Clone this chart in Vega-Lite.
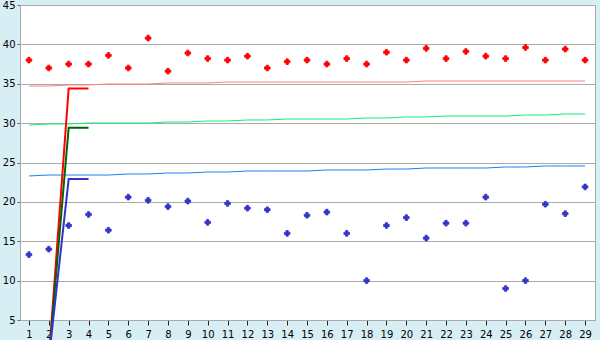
{
  "$schema": "https://vega.github.io/schema/vega-lite/v6.json",
  "width": 575,
  "height": 315,
  "autosize": {"type": "none"},
  "padding": {"left": 20, "top": 5, "right": 5, "bottom": 20},
  "background": "#d8eef5",
  "config": {
    "view": {"fill": "white", "stroke": "#aaaaaa", "strokeWidth": 1},
    "font": "DejaVu Sans",
    "axis": {"labelFont": "DejaVu Sans", "labelFontSize": 10, "labelColor": "#000000", "title": null, "labelFlush": false, "labelOverlap": false, "domainColor": "#aaaaaa", "gridColor": "#aaaaaa", "gridOpacity": 1}
  },
  "resolve": {"scale": {"color": "independent"}},
  "layer": [
    {
      "data": {"values": [
        {"x": 1, "s": "r", "v": 34.71}, {"x": 2, "s": "r", "v": 34.71}, {"x": 3, "s": "r", "v": 34.84}, {"x": 4, "s": "r", "v": 34.84}, {"x": 5, "s": "r", "v": 34.97}, {"x": 6, "s": "r", "v": 34.97}, {"x": 7, "s": "r", "v": 34.97}, {"x": 8, "s": "r", "v": 35.10}, {"x": 9, "s": "r", "v": 35.10}, {"x": 10, "s": "r", "v": 35.10},
        {"x": 11, "s": "r", "v": 35.22}, {"x": 12, "s": "r", "v": 35.22}, {"x": 13, "s": "r", "v": 35.22}, {"x": 14, "s": "r", "v": 35.22}, {"x": 15, "s": "r", "v": 35.22}, {"x": 16, "s": "r", "v": 35.22}, {"x": 17, "s": "r", "v": 35.22}, {"x": 18, "s": "r", "v": 35.22}, {"x": 19, "s": "r", "v": 35.22}, {"x": 20, "s": "r", "v": 35.22},
        {"x": 21, "s": "r", "v": 35.35}, {"x": 22, "s": "r", "v": 35.35}, {"x": 23, "s": "r", "v": 35.35}, {"x": 24, "s": "r", "v": 35.35}, {"x": 25, "s": "r", "v": 35.35}, {"x": 26, "s": "r", "v": 35.35}, {"x": 27, "s": "r", "v": 35.35}, {"x": 28, "s": "r", "v": 35.35}, {"x": 29, "s": "r", "v": 35.35},
        {"x": 1, "s": "g", "v": 29.76}, {"x": 2, "s": "g", "v": 29.89}, {"x": 3, "s": "g", "v": 29.89}, {"x": 4, "s": "g", "v": 30.02}, {"x": 5, "s": "g", "v": 30.02}, {"x": 6, "s": "g", "v": 30.02}, {"x": 7, "s": "g", "v": 30.02}, {"x": 8, "s": "g", "v": 30.14}, {"x": 9, "s": "g", "v": 30.14}, {"x": 10, "s": "g", "v": 30.27},
        {"x": 11, "s": "g", "v": 30.27}, {"x": 12, "s": "g", "v": 30.40}, {"x": 13, "s": "g", "v": 30.40}, {"x": 14, "s": "g", "v": 30.52}, {"x": 15, "s": "g", "v": 30.52}, {"x": 16, "s": "g", "v": 30.52}, {"x": 17, "s": "g", "v": 30.52}, {"x": 18, "s": "g", "v": 30.65}, {"x": 19, "s": "g", "v": 30.65}, {"x": 20, "s": "g", "v": 30.78},
        {"x": 21, "s": "g", "v": 30.78}, {"x": 22, "s": "g", "v": 30.90}, {"x": 23, "s": "g", "v": 30.90}, {"x": 24, "s": "g", "v": 30.90}, {"x": 25, "s": "g", "v": 30.90}, {"x": 26, "s": "g", "v": 31.03}, {"x": 27, "s": "g", "v": 31.03}, {"x": 28, "s": "g", "v": 31.16}, {"x": 29, "s": "g", "v": 31.16},
        {"x": 1, "s": "b", "v": 23.29}, {"x": 2, "s": "b", "v": 23.41}, {"x": 3, "s": "b", "v": 23.41}, {"x": 4, "s": "b", "v": 23.41}, {"x": 5, "s": "b", "v": 23.41}, {"x": 6, "s": "b", "v": 23.54}, {"x": 7, "s": "b", "v": 23.54}, {"x": 8, "s": "b", "v": 23.67}, {"x": 9, "s": "b", "v": 23.67}, {"x": 10, "s": "b", "v": 23.79},
        {"x": 11, "s": "b", "v": 23.79}, {"x": 12, "s": "b", "v": 23.92}, {"x": 13, "s": "b", "v": 23.92}, {"x": 14, "s": "b", "v": 23.92}, {"x": 15, "s": "b", "v": 23.92}, {"x": 16, "s": "b", "v": 24.05}, {"x": 17, "s": "b", "v": 24.05}, {"x": 18, "s": "b", "v": 24.05}, {"x": 19, "s": "b", "v": 24.17}, {"x": 20, "s": "b", "v": 24.17},
        {"x": 21, "s": "b", "v": 24.30}, {"x": 22, "s": "b", "v": 24.30}, {"x": 23, "s": "b", "v": 24.30}, {"x": 24, "s": "b", "v": 24.30}, {"x": 25, "s": "b", "v": 24.43}, {"x": 26, "s": "b", "v": 24.43}, {"x": 27, "s": "b", "v": 24.56}, {"x": 28, "s": "b", "v": 24.56}, {"x": 29, "s": "b", "v": 24.56}
      ]},
      "mark": {"type": "line", "strokeWidth": 1, "clip": false},
      "encoding": {
        "x": {"field": "x", "type": "quantitative", "scale": {"domain": [0.55, 29.5], "nice": false, "zero": false},
              "axis": {"values": [1,2,3,4,5,6,7,8,9,10,11,12,13,14,15,16,17,18,19,20,21,22,23,24,25,26,27,28,29], "tickCount": 40, "grid": false, "tickSize": 5, "tickColor": "#222222", "labelPadding": 4}},
        "y": {"field": "v", "type": "quantitative", "scale": {"domain": [5, 45], "nice": false, "zero": false},
              "axis": {"values": [5,10,15,20,25,30,35,40,45], "tickCount": 20, "grid": true, "tickSize": 3, "tickColor": "#666666", "labelPadding": 2}},
        "color": {"field": "s", "type": "nominal", "scale": {"domain": ["r", "g", "b"], "range": ["#ff8080", "#11ee80", "#1e80f0"]}, "legend": null},
        "order": {"field": "x", "type": "quantitative"}
      }
    },
    {
      "data": {"values": [
        {"x": 2, "s": "r", "v": 0}, {"x": 3, "s": "r", "v": 34.4}, {"x": 4, "s": "r", "v": 34.4},
        {"x": 2, "s": "g", "v": 0}, {"x": 3, "s": "g", "v": 29.4}, {"x": 4, "s": "g", "v": 29.4},
        {"x": 2, "s": "b", "v": 0}, {"x": 3, "s": "b", "v": 22.9}, {"x": 4, "s": "b", "v": 22.9}
      ]},
      "mark": {"type": "line", "strokeWidth": 2, "clip": false, "strokeJoin": "miter"},
      "encoding": {
        "x": {"field": "x", "type": "quantitative"},
        "y": {"field": "v", "type": "quantitative"},
        "color": {"field": "s", "type": "nominal", "scale": {"domain": ["r", "g", "b"], "range": ["#ff0000", "#006600", "#3333cc"]}, "legend": null},
        "order": {"field": "x", "type": "quantitative"}
      }
    },
    {
      "data": {"values": [
        {"x": 1, "s": "r", "v": 38.0}, {"x": 2, "s": "r", "v": 37.0}, {"x": 3, "s": "r", "v": 37.5}, {"x": 4, "s": "r", "v": 37.5}, {"x": 5, "s": "r", "v": 38.6}, {"x": 6, "s": "r", "v": 37.0}, {"x": 7, "s": "r", "v": 40.8}, {"x": 8, "s": "r", "v": 36.6}, {"x": 9, "s": "r", "v": 38.9}, {"x": 10, "s": "r", "v": 38.2},
        {"x": 11, "s": "r", "v": 38.0}, {"x": 12, "s": "r", "v": 38.5}, {"x": 13, "s": "r", "v": 37.0}, {"x": 14, "s": "r", "v": 37.8}, {"x": 15, "s": "r", "v": 38.0}, {"x": 16, "s": "r", "v": 37.5}, {"x": 17, "s": "r", "v": 38.2}, {"x": 18, "s": "r", "v": 37.5}, {"x": 19, "s": "r", "v": 39.0}, {"x": 20, "s": "r", "v": 38.0},
        {"x": 21, "s": "r", "v": 39.5}, {"x": 22, "s": "r", "v": 38.2}, {"x": 23, "s": "r", "v": 39.1}, {"x": 24, "s": "r", "v": 38.5}, {"x": 25, "s": "r", "v": 38.2}, {"x": 26, "s": "r", "v": 39.6}, {"x": 27, "s": "r", "v": 38.0}, {"x": 28, "s": "r", "v": 39.4}, {"x": 29, "s": "r", "v": 38.0},
        {"x": 1, "s": "b", "v": 13.3}, {"x": 2, "s": "b", "v": 14.0}, {"x": 3, "s": "b", "v": 17.0}, {"x": 4, "s": "b", "v": 18.4}, {"x": 5, "s": "b", "v": 16.4}, {"x": 6, "s": "b", "v": 20.6}, {"x": 7, "s": "b", "v": 20.2}, {"x": 8, "s": "b", "v": 19.4}, {"x": 9, "s": "b", "v": 20.1}, {"x": 10, "s": "b", "v": 17.4},
        {"x": 11, "s": "b", "v": 19.8}, {"x": 12, "s": "b", "v": 19.2}, {"x": 13, "s": "b", "v": 19.0}, {"x": 14, "s": "b", "v": 16.0}, {"x": 15, "s": "b", "v": 18.3}, {"x": 16, "s": "b", "v": 18.7}, {"x": 17, "s": "b", "v": 16.0}, {"x": 18, "s": "b", "v": 10.0}, {"x": 19, "s": "b", "v": 17.0}, {"x": 20, "s": "b", "v": 18.0},
        {"x": 21, "s": "b", "v": 15.4}, {"x": 22, "s": "b", "v": 17.3}, {"x": 23, "s": "b", "v": 17.3}, {"x": 24, "s": "b", "v": 20.6}, {"x": 25, "s": "b", "v": 9.0}, {"x": 26, "s": "b", "v": 10.0}, {"x": 27, "s": "b", "v": 19.7}, {"x": 28, "s": "b", "v": 18.5}, {"x": 29, "s": "b", "v": 21.9}
      ]},
      "mark": {"type": "point", "shape": "cross", "filled": true, "size": 32, "opacity": 1, "strokeWidth": 0.8},
      "encoding": {
        "x": {"field": "x", "type": "quantitative"},
        "y": {"field": "v", "type": "quantitative"},
        "color": {"field": "s", "type": "nominal", "scale": {"domain": ["r", "b"], "range": ["#ff0000", "#3333cc"]}, "legend": null},
        "stroke": {"field": "s", "type": "nominal", "scale": {"domain": ["r", "b"], "range": ["#ff0000", "#3333cc"]}, "legend": null}
      }
    }
  ]
}
